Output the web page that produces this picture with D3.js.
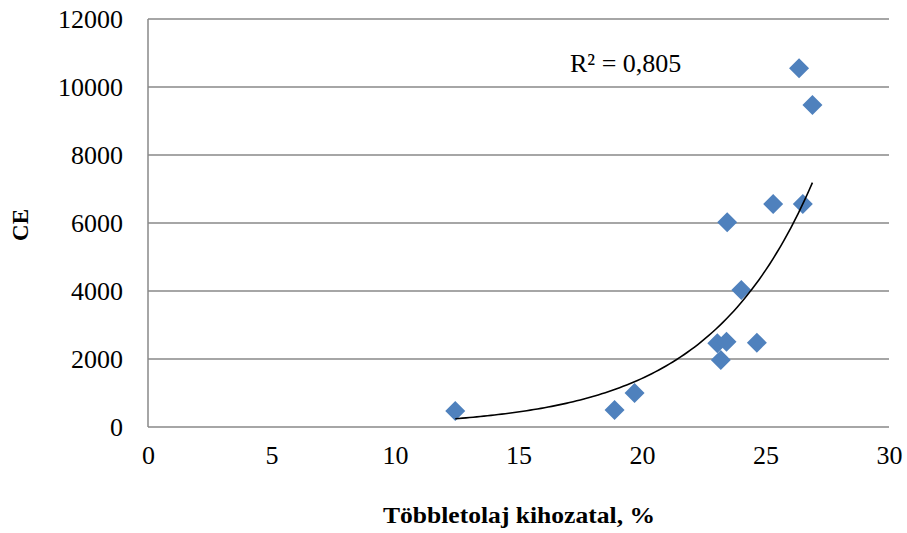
<!DOCTYPE html>
<html>
<head>
<meta charset="utf-8">
<script src="https://cdn.jsdelivr.net/npm/d3@7"></script>
<style>
  body { margin: 0; background: #fff; }
  svg text { font-family: "Liberation Serif", "Times New Roman", serif !important; }
</style>
</head>
<body>
<div id="chart"></div>
<script>
// Data
const yieldPct = [12.44, 18.89, 19.70, 23.05, 23.42, 23.19, 24.65, 24.02, 23.45, 25.31, 26.51, 26.36, 26.90];
const ceValues = [470, 500, 1000, 2460, 2510, 1970, 2480, 4030, 6020, 6560, 6560, 10550, 9470];
const xTicks = [0, 5, 10, 15, 20, 25, 30];
const yTicks = [0, 2000, 4000, 6000, 8000, 10000, 12000];
const r2Label = "R² = 0,805";

const W = 907, H = 533;
const margin = { top: 19, right: 18, bottom: 106, left: 148 };
const width = W - margin.left - margin.right;
const height = H - margin.top - margin.bottom;

const svg = d3.select("#chart")
    .append("svg")
    .attr("width", W)
    .attr("height", H);

const g = svg.append("g")
    .attr("transform", `translate(${margin.left},${margin.top})`);

const x = d3.scaleLinear().domain([0, 30]).range([0, width]);
const y = d3.scaleLinear().domain([0, 12000]).range([height, 0]);

// horizontal gridlines
g.append("g")
    .selectAll("line")
    .data(yTicks)
    .join("line")
    .attr("x1", 0)
    .attr("x2", width)
    .attr("y1", d => y(d))
    .attr("y2", d => y(d))
    .attr("stroke", "#888")
    .attr("stroke-width", 1.5);

// left axis line
g.append("line")
    .attr("x1", 0).attr("x2", 0)
    .attr("y1", 0).attr("y2", height)
    .attr("stroke", "#888")
    .attr("stroke-width", 1.5);

// y axis labels
const yAxis = g.append("g")
    .call(d3.axisLeft(y).tickValues(yTicks).tickSize(0).tickPadding(25).tickFormat(d3.format("d")));
yAxis.select(".domain").remove();
yAxis.selectAll("text")
    .style("font-size", "26px")
    .attr("fill", "#000");

// x axis labels
const xAxis = g.append("g")
    .attr("transform", `translate(0,${height})`)
    .call(d3.axisBottom(x).tickValues(xTicks).tickSize(0).tickPadding(19));
xAxis.select(".domain").remove();
xAxis.selectAll("text")
    .style("font-size", "26px")
    .attr("fill", "#000");

// exponential trendline fitted to the points (least squares on ln y)
const pts = yieldPct.map((v, i) => ({ x: v, y: ceValues[i] }));
const mx = d3.mean(pts, d => d.x);
const my = d3.mean(pts, d => Math.log(d.y));
const b = d3.sum(pts, d => (d.x - mx) * (Math.log(d.y) - my)) / d3.sum(pts, d => (d.x - mx) ** 2);
const a = Math.exp(my - b * mx);
const [xmin, xmax] = d3.extent(yieldPct);
const trend = d3.range(0, 101).map(i => {
    const xv = xmin + (xmax - xmin) * i / 100;
    return { x: xv, y: a * Math.exp(b * xv) };
});

// markers
g.append("g")
    .selectAll("path")
    .data(pts)
    .join("path")
    .attr("d", d3.symbol(d3.symbolSquare, 200))
    .attr("transform", d => `translate(${x(d.x)},${y(d.y)}) rotate(45)`)
    .attr("fill", "#4f81bd");

g.append("path")
    .datum(trend)
    .attr("fill", "none")
    .attr("stroke", "#000")
    .attr("stroke-width", 1.6)
    .attr("d", d3.line().x(d => x(d.x)).y(d => y(d.y)));

// R² label
g.append("text")
    .attr("x", 422)
    .attr("y", 53)
    .style("font-size", "26px")
    .text(r2Label);

// axis titles
svg.append("text")
    .attr("x", 519)
    .attr("y", 523)
    .attr("text-anchor", "middle")
    .attr("textLength", 272)
    .attr("lengthAdjust", "spacingAndGlyphs")
    .style("font-size", "23px")
    .style("font-weight", "bold")
    .text("Többletolaj kihozatal, %");

svg.append("text")
    .attr("transform", "translate(28,225) rotate(-90)")
    .attr("text-anchor", "middle")
    .style("font-size", "23px")
    .style("font-weight", "bold")
    .text("CE");
</script>
</body>
</html>
